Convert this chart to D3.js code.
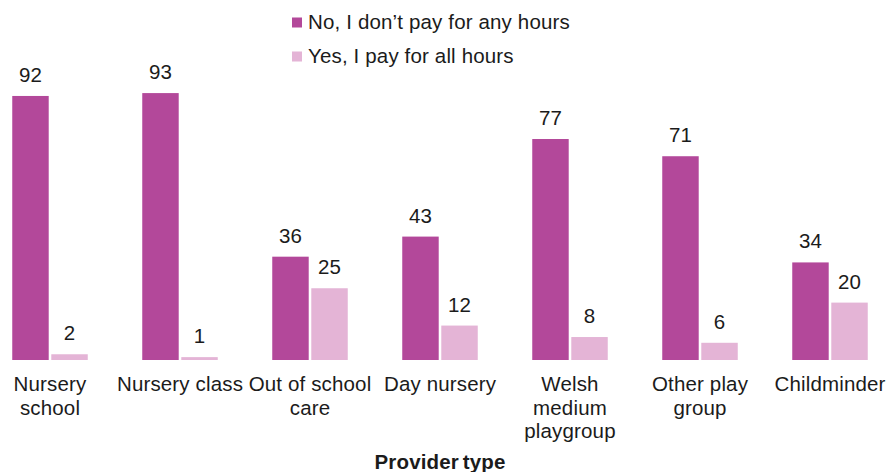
<!DOCTYPE html>
<html>
<head>
<meta charset="utf-8">
<script src="https://cdn.jsdelivr.net/npm/d3@7"></script>
<style>
  html, body { margin: 0; padding: 0; background: #ffffff; }
  svg { display: block; font-family: "Liberation Sans", Arial, sans-serif; letter-spacing: 0.15px; }
</style>
</head>
<body>
<svg id="chart" width="886" height="472"></svg>
<script>
// Provider types and their wrapped axis labels
const categories = ["Nursery school", "Nursery class", "Out of school care", "Day nursery",
                    "Welsh medium playgroup", "Other play group", "Childminder"];
const tickLabels = [["Nursery", "school"], ["Nursery class"], ["Out of school", "care"], ["Day nursery"],
                    ["Welsh", "medium", "playgroup"], ["Other play", "group"], ["Childminder"]];

// Series
const seriesNames = ["No, I don’t pay for any hours", "Yes, I pay for all hours"];
const noPayValues  = [92, 93, 36, 43, 77, 71, 34];
const payAllValues = [2, 1, 25, 12, 8, 6, 20];
const seriesColors = ["#b3489a", "#e4b4d6"];

const axisTitle = "Provider type";

const svg = d3.select("#chart");
const textColor = "#1b1b1b";
const fontSize = 20.5;

const x0 = d3.scaleBand().domain(categories).range([-15, 895]).paddingInner(0).paddingOuter(0);
const groupWidth = 75.5;
const x1 = d3.scaleBand().domain(seriesNames).range([0, groupWidth]).paddingInner(0.066).paddingOuter(0);
const y = d3.scaleLinear().domain([0, 100]).range([360, 73]);

const rows = categories.map((c, i) => ({
  category: c,
  values: [
    { series: seriesNames[0], value: noPayValues[i], color: seriesColors[0] },
    { series: seriesNames[1], value: payAllValues[i], color: seriesColors[1] }
  ]
}));

const groups = svg.append("g").selectAll("g")
  .data(rows)
  .join("g")
  .attr("transform", d => `translate(${x0(d.category) + x0.bandwidth() / 2 - groupWidth / 2},0)`);

groups.selectAll("rect")
  .data(d => d.values)
  .join("rect")
  .attr("x", d => x1(d.series))
  .attr("y", d => y(d.value))
  .attr("width", x1.bandwidth())
  .attr("height", d => y(0) - y(d.value))
  .attr("fill", d => d.color);

groups.selectAll("text.value")
  .data(d => d.values)
  .join("text")
  .attr("class", "value")
  .attr("x", d => x1(d.series) + x1.bandwidth() / 2)
  .attr("y", d => y(d.value) - 14)
  .attr("text-anchor", "middle")
  .attr("font-size", fontSize)
  .attr("fill", textColor)
  .text(d => d.value);

// Category axis (no line, no ticks) with wrapped labels
const xAxis = svg.append("g")
  .attr("transform", `translate(0,${y(0)})`)
  .call(d3.axisBottom(x0).tickSize(0).tickFormat(""));
xAxis.select(".domain").remove();

xAxis.selectAll(".tick").each(function(d) {
  const i = categories.indexOf(d);
  const t = d3.select(this).append("text")
    .attr("text-anchor", "middle")
    .attr("font-size", fontSize)
    .attr("fill", textColor);
  tickLabels[i].forEach((line, k) => {
    t.append("tspan").attr("x", 0).attr("y", 31 + k * 23.5).text(line);
  });
});

// Axis title
svg.append("text")
  .attr("x", 440)
  .attr("y", 469)
  .attr("text-anchor", "middle")
  .attr("font-size", fontSize)
  .attr("font-weight", "bold")
  .attr("word-spacing", "-2")
  .attr("fill", textColor)
  .text(axisTitle);

// Legend
const legend = svg.append("g").selectAll("g")
  .data(seriesNames)
  .join("g")
  .attr("transform", (d, i) => `translate(292,${i * 34})`);

legend.append("rect")
  .attr("x", 0)
  .attr("y", 17.5)
  .attr("width", 10)
  .attr("height", 10)
  .attr("fill", (d, i) => seriesColors[i]);

legend.append("text")
  .attr("x", 16)
  .attr("y", 29)
  .attr("font-size", fontSize)
  .attr("fill", textColor)
  .text(d => d);
</script>
</body>
</html>
